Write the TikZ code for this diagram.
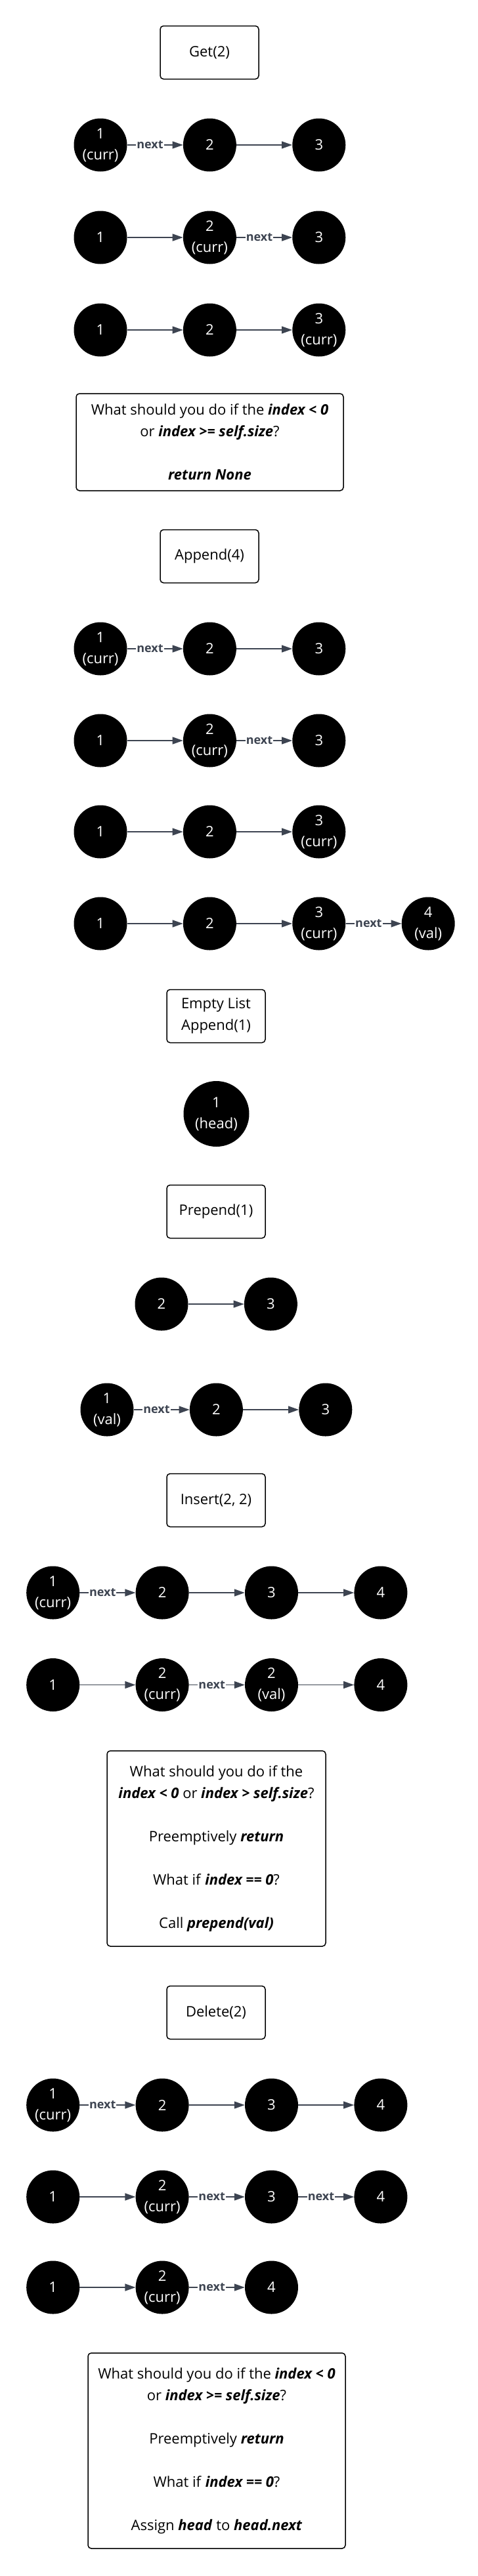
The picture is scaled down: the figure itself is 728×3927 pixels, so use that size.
\documentclass[tikz,border=0pt]{standalone}
\usepackage{fontspec}
\setmainfont{Open Sans}
\usepackage{xcolor}
\usepackage{tikz}
\usetikzlibrary{arrows.meta,positioning}
\definecolor{edgegray}{HTML}{3D4451}
\newcommand{\kw}[1]{\textbf{\textit{#1}}}

\begin{document}
\begin{tikzpicture}[
  x=1pt, y=-1pt,
  node distance=85pt,
  box/.style={rectangle, draw, line width=1.5pt, rounded corners=5pt, minimum width=150pt, minimum height=81pt, align=center, font=\fontsize{22}{33}\selectfont},
  note/.style={box, inner sep=8pt},
  elem/.style={circle, fill=black, text=white, minimum size=81pt, inner sep=0pt, align=center, font=\fontsize{22}{32}\selectfont},
  arrow/.style={-{Triangle[length=16pt,width=11pt]}, line width=1.4pt, draw=edgegray},
  nxt/.style={fill=white, text=edgegray, inner sep=1pt, pos=0.41, font=\fontsize{18}{20}\selectfont\bfseries}
]
  \useasboundingbox (0,0) rectangle (728,3927);

  % Get(2)
  \node[box] (get) at (319,80) {Get(2)};
  \node[elem] (ga1) at (153,221) {1\\(curr)};
  \node[elem, right=of ga1] (ga2) {2};
  \node[elem, right=of ga2] (ga3) {3};
  \node[elem] (gb1) at (153,362) {1};
  \node[elem, right=of gb1] (gb2) {2\\(curr)};
  \node[elem, right=of gb2] (gb3) {3};
  \node[elem] (gc1) at (153,503) {1};
  \node[elem, right=of gc1] (gc2) {2};
  \node[elem, right=of gc2] (gc3) {3\\(curr)};
  \node[note, minimum width=407pt, minimum height=148pt] (getnote) at (319.5,674)
    {What should you do if the \kw{index < 0}\\or \kw{index >= self.size}?\\[33pt]\kw{return None}};

  \draw[arrow] (ga1) -- node[nxt] {next} (ga2);
  \draw[arrow] (ga2) -- (ga3);
  \draw[arrow] (gb1) -- (gb2);
  \draw[arrow] (gb2) -- node[nxt] {next} (gb3);
  \draw[arrow] (gc1) -- (gc2);
  \draw[arrow] (gc2) -- (gc3);

  % Append(4)
  \node[box] (append) at (319,848) {Append(4)};
  \node[elem] (aa1) at (153,989) {1\\(curr)};
  \node[elem, right=of aa1] (aa2) {2};
  \node[elem, right=of aa2] (aa3) {3};
  \node[elem] (ab1) at (153,1129) {1};
  \node[elem, right=of ab1] (ab2) {2\\(curr)};
  \node[elem, right=of ab2] (ab3) {3};
  \node[elem] (ac1) at (153,1268) {1};
  \node[elem, right=of ac1] (ac2) {2};
  \node[elem, right=of ac2] (ac3) {3\\(curr)};
  \node[elem] (ad1) at (153,1408) {1};
  \node[elem, right=of ad1] (ad2) {2};
  \node[elem, right=of ad2] (ad3) {3\\(curr)};
  \node[elem, right=of ad3] (ad4) {4\\(val)};

  \draw[arrow] (aa1) -- node[nxt] {next} (aa2);
  \draw[arrow] (aa2) -- (aa3);
  \draw[arrow] (ab1) -- (ab2);
  \draw[arrow] (ab2) -- node[nxt] {next} (ab3);
  \draw[arrow] (ac1) -- (ac2);
  \draw[arrow] (ac2) -- (ac3);
  \draw[arrow] (ad1) -- (ad2);
  \draw[arrow] (ad2) -- (ad3);
  \draw[arrow] (ad3) -- node[nxt] {next} (ad4);

  % Empty list
  \node[box] (empty) at (329,1549) {Empty List\\Append(1)};
  \node[elem, minimum size=100pt] (head) at (329.5,1698) {1\\(head)};

  % Prepend(1)
  \node[box] (prepend) at (329,1847) {Prepend(1)};
  \node[elem] (pa2) at (246,1988) {2};
  \node[elem, right=of pa2] (pa3) {3};
  \node[elem] (pb1) at (163,2149) {1\\(val)};
  \node[elem, right=of pb1] (pb2) {2};
  \node[elem, right=of pb2] (pb3) {3};

  \draw[arrow] (pa2) -- (pa3);
  \draw[arrow] (pb1) -- node[nxt] {next} (pb2);
  \draw[arrow] (pb2) -- (pb3);

  % Insert(2, 2)
  \node[box] (insert) at (329,2287) {Insert(2, 2)};
  \node[elem] (ia1) at (80.7,2428) {1\\(curr)};
  \node[elem, right=of ia1] (ia2) {2};
  \node[elem, right=of ia2] (ia3) {3};
  \node[elem, right=of ia3] (ia4) {4};
  \node[elem] (ib1) at (80.7,2568.5) {1};
  \node[elem, right=of ib1] (ib2) {2\\(curr)};
  \node[elem, right=of ib2] (ib3) {2\\(val)};
  \node[elem, right=of ib3] (ib4) {4};
  \node[note, minimum width=333pt, minimum height=298pt] (insertnote) at (329.5,2818)
    {What should you do if the\\\kw{index < 0} or \kw{index > self.size}?\\[33pt]Preemptively \kw{return}\\[33pt]What if \kw{index == 0}?\\[33pt]Call \kw{prepend(val)}};

  \draw[arrow] (ia1) -- node[nxt] {next} (ia2);
  \draw[arrow] (ia2) -- (ia3);
  \draw[arrow] (ia3) -- (ia4);
  \draw[arrow] (ib1) -- (ib2);
  \draw[arrow] (ib2) -- node[nxt] {next} (ib3);
  \draw[arrow] (ib3) -- (ib4);

  % Delete(2)
  \node[box] (delete) at (329,3068) {Delete(2)};
  \node[elem] (da1) at (80.7,3209) {1\\(curr)};
  \node[elem, right=of da1] (da2) {2};
  \node[elem, right=of da2] (da3) {3};
  \node[elem, right=of da3] (da4) {4};
  \node[elem] (db1) at (80.7,3349) {1};
  \node[elem, right=of db1] (db2) {2\\(curr)};
  \node[elem, right=of db2] (db3) {3};
  \node[elem, right=of db3] (db4) {4};
  \node[elem] (dc1) at (80.7,3487) {1};
  \node[elem, right=of dc1] (dc2) {2\\(curr)};
  \node[elem, right=of dc2] (dc4) {4};
  \node[note, minimum width=392pt, minimum height=298pt] (deletenote) at (330,3736)
    {What should you do if the \kw{index < 0}\\or \kw{index >= self.size}?\\[33pt]Preemptively \kw{return}\\[33pt]What if \kw{index == 0}?\\[33pt]Assign \kw{head} to \kw{head.next}};

  \draw[arrow] (da1) -- node[nxt] {next} (da2);
  \draw[arrow] (da2) -- (da3);
  \draw[arrow] (da3) -- (da4);
  \draw[arrow] (db1) -- (db2);
  \draw[arrow] (db2) -- node[nxt] {next} (db3);
  \draw[arrow] (db3) -- node[nxt] {next} (db4);
  \draw[arrow] (dc1) -- (dc2);
  \draw[arrow] (dc2) -- node[nxt] {next} (dc4);
\end{tikzpicture}
\end{document}
